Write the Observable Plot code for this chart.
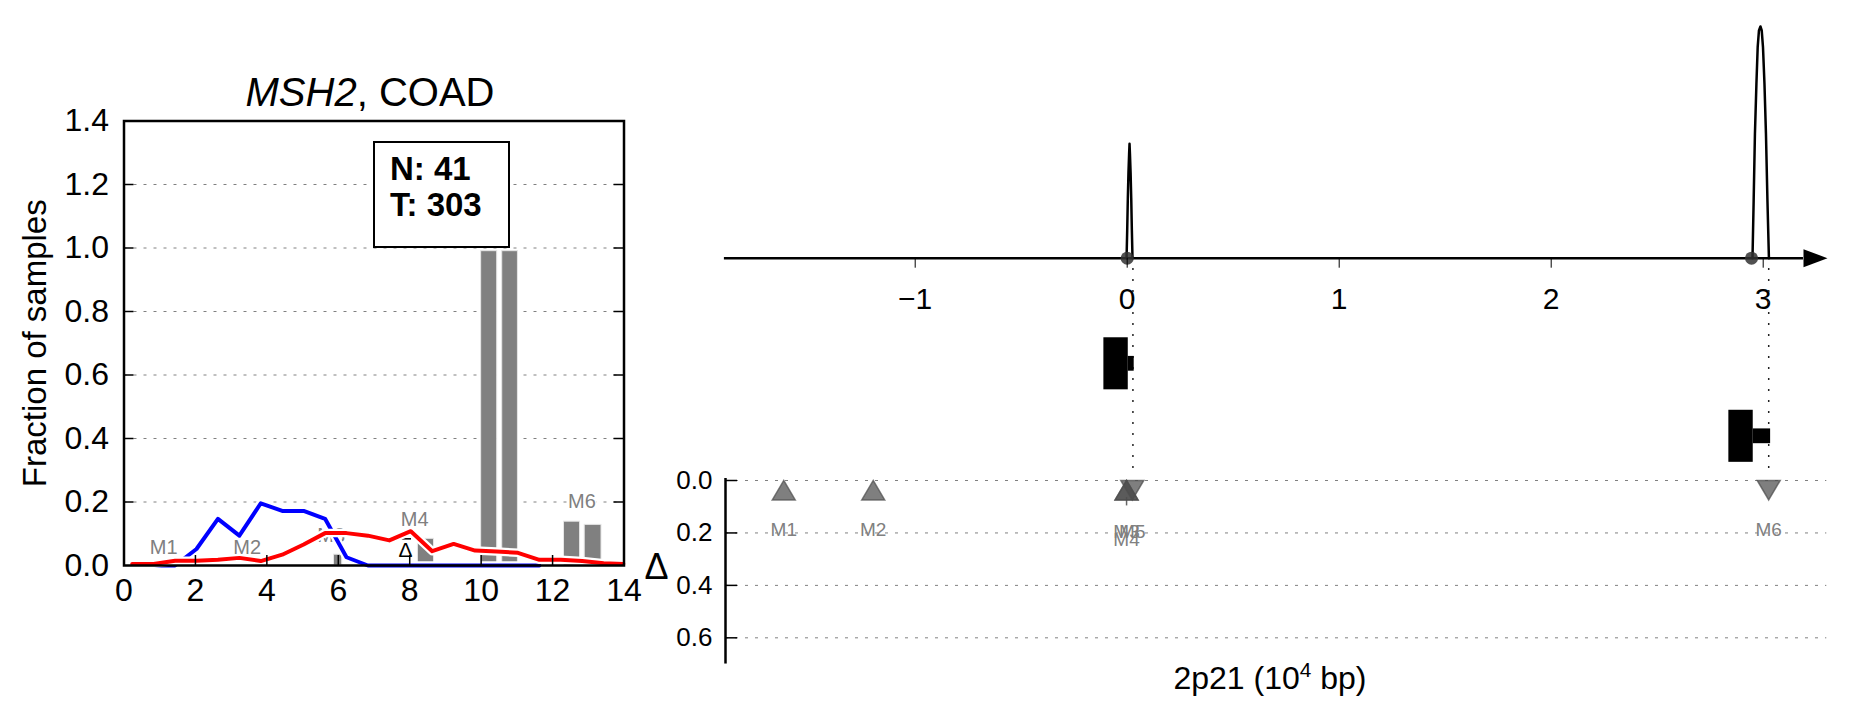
<!DOCTYPE html>
<html>
<head>
<meta charset="utf-8">
<script src="https://cdn.jsdelivr.net/npm/d3@7"></script>
<script src="https://cdn.jsdelivr.net/npm/@observablehq/plot@0.6"></script>
<style>
  body { margin: 0; background: #fff; }
  #root { position: relative; width: 1851px; height: 718px; overflow: hidden;
          font-family: 'Liberation Sans', Arial, Helvetica, sans-serif; color: #000; }
  .abs { position: absolute; }
  .abs svg { max-width: none !important; }
</style>
</head>
<body>
<div id="root"></div>
<script>
// ---------------- DATA ----------------
// Left panel: fraction of samples by copy-number bin
const cnX        = [0.23, 0.83, 1.43, 2.03, 2.63, 3.23, 3.83, 4.43, 5.03, 5.63, 6.23, 6.83, 7.43, 8.03, 8.63, 9.23, 9.83, 10.43, 11.03, 11.63, 12.23, 12.83, 13.43, 13.98];
const tumorFrac  = [0.005, 0.005, 0.015, 0.015, 0.018, 0.024, 0.014, 0.034, 0.066, 0.102, 0.102, 0.094, 0.079, 0.108, 0.045, 0.068, 0.047, 0.044, 0.040, 0.018, 0.018, 0.014, 0.007, 0.005];
const normalFrac = [0, 0, 0, 0.052, 0.147, 0.094, 0.196, 0.172, 0.172, 0.147, 0.026, 0, 0, 0, 0, 0, 0, 0, 0, 0];

const barX1  = [5.88, 8.23, 10.00, 10.59, 12.32, 12.90];
const barX2  = [6.11, 8.68, 10.45, 11.03, 12.77, 13.37];
const barTop = [0.034, 0.084, 0.99, 0.99, 0.138, 0.128];

const leftLabelText = ["M1", "M2", "M3", "M4", "M6"];
const leftLabelX    = [1.11, 3.45, 5.80, 8.14, 12.82];
const leftLabelY    = [0.057, 0.057, 0.094, 0.144, 0.200];

const deltaMarkX = [7.88];
const deltaMarkY = [0.047];
const deltaBarX1 = [7.79];
const deltaBarX2 = [8.05];
const deltaBarY  = [0.084];

const leftXTicks = [0, 2, 4, 6, 8, 10, 12, 14];
const leftYTicks = [0, 0.2, 0.4, 0.6, 0.8, 1.0, 1.2, 1.4];

const countN = 41;
const countT = 303;

// Right panel: genomic position (10^4 bp)
const posTicks = [-1, 0, 1, 2, 3];
const peak1X = [-0.003, 0.000, 0.003, 0.006, 0.009, 0.011, 0.013, 0.016, 0.019, 0.022, 0.025];
const peak1Y = [0, 0.12, 0.26, 0.37, 0.45, 0.494, 0.45, 0.37, 0.26, 0.12, 0];
const peak2X = [2.9495, 2.955, 2.961, 2.968, 2.974, 2.980, 2.987, 2.993, 2.999, 3.006, 3.013, 3.020, 3.027];
const peak2Y = [0, 0.249, 0.537, 0.752, 0.911, 0.983, 1.0, 0.983, 0.911, 0.752, 0.537, 0.249, 0];
const junctionX = [0.0, 2.945];
const guideX = [0.027, 3.026];

const exonStart = [-0.110, 2.838];
const exonMid   = [0.005, 2.953];
const exonEnd   = [0.033, 3.035];
const exonTier  = [0, 1];

const mutNames  = ["M1", "M2", "M3", "M4", "M5", "M6"];
const mutPos    = [-1.62, -1.198, -0.003, -0.003, 0.024, 3.026];
const mutDir    = ["up", "up", "up", "up", "down", "down"];
const mutDelta  = [0.037, 0.037, 0.037, 0.037, 0.037, 0.037];
const mutLabelDelta = [0.19, 0.19, 0.195, 0.225, 0.195, 0.19];
const errX  = [-0.003];
const errLo = [0.065];
const errHi = [0.097];
const deltaTicks = [0, 0.2, 0.4, 0.6];

// ---------------- HELPERS ----------------
const FONT = "'Liberation Sans', Arial, Helvetica, sans-serif";
const root = document.getElementById("root");
function place(el, left, top) {
  const w = document.createElement("div");
  w.className = "abs";
  w.style.left = left + "px";
  w.style.top = top + "px";
  w.appendChild(el);
  root.appendChild(w);
}
function baseStyle(size) {
  return {fontFamily: FONT, fontSize: size + "px", background: "transparent", overflow: "visible", color: "black", maxWidth: "none"};
}
const minusFmt = d => (d < 0 ? "\u2212" + Math.abs(d) : String(d));

// ---------------- LEFT PANEL ----------------
const normalData = normalFrac.map((y, i) => ({x: cnX[i], y}));
const tumorData = tumorFrac.map((y, i) => ({x: cnX[i], y}));
const bars = barTop.map((t, i) => ({x1: barX1[i], x2: barX2[i], top: t}));
const leftLabels = leftLabelText.map((t, i) => ({t, x: leftLabelX[i], y: leftLabelY[i]}));
const deltaMark = deltaMarkX.map((x, i) => ({x, y: deltaMarkY[i]}));
const deltaBar = deltaBarX1.map((x1, i) => ({x1, x2: deltaBarX2[i], y: deltaBarY[i]}));

const A = {w: 660, h: 640, ml: 123.5, mt: 120.5, mr: 36.5, mb: 75};
const AfW = A.w - A.ml - A.mr;
const AfH = A.h - A.mt - A.mb;
const innerX = leftXTicks.slice(1, -1);
const innerY = leftYTicks.slice(1, -1);

const plotA = Plot.plot({
  width: A.w, height: A.h,
  marginLeft: A.ml, marginTop: A.mt, marginRight: A.mr, marginBottom: A.mb,
  style: baseStyle(32),
  x: {domain: [0, 14]},
  y: {domain: [0, 1.4]},
  marks: [
    Plot.ruleY(innerY, {stroke: "#808080", strokeWidth: 1, strokeDasharray: "3,7"}),
    Plot.rect(bars, {x1: "x1", x2: "x2", y1: 0, y2: "top", fill: "#808080", stroke: "#e6e6e6", strokeWidth: 1}),
    Plot.text(leftLabels, {x: "x", y: "y", text: "t", fill: "#808080", fontSize: 20, stroke: "white", strokeWidth: 3, paintOrder: "stroke"}),
    Plot.text(deltaMark, {x: "x", y: "y", text: () => "\u0394", fill: "black", fontSize: 21}),
    Plot.ruleY(deltaBar, {y: "y", x1: "x1", x2: "x2", stroke: "black", strokeWidth: 1.5}),
    Plot.line(normalData, {x: "x", y: "y", stroke: "white", strokeWidth: 8.5, strokeLinejoin: "round"}),
    Plot.line(normalData, {x: "x", y: "y", stroke: "#0000ff", strokeWidth: 4, strokeLinejoin: "round"}),
    Plot.line(tumorData, {x: "x", y: "y", stroke: "white", strokeWidth: 8.5, strokeLinejoin: "round"}),
    Plot.line(tumorData, {x: "x", y: "y", stroke: "#ff0000", strokeWidth: 4, strokeLinejoin: "round"}),
    Plot.ruleX(innerX, {stroke: "black", strokeWidth: 1.5, insetTop: AfH - 10}),
    Plot.ruleY(innerY, {stroke: "black", strokeWidth: 1.5, insetRight: AfW - 10}),
    Plot.ruleY(innerY, {stroke: "black", strokeWidth: 1.5, insetLeft: AfW - 10}),
    Plot.frame({stroke: "black", strokeWidth: 2.5}),
    Plot.axisX({ticks: leftXTicks, tickSize: 0, tickPadding: 13, tickFormat: d => String(d), label: null}),
    Plot.axisY({ticks: leftYTicks, tickSize: 0, tickPadding: 15, tickFormat: d3.format(".1f"), label: null}),
    Plot.text(["Fraction of samples"], {frameAnchor: "left", textAnchor: "middle", rotate: -90, dx: -88.5, fontSize: 33})
  ]
});
place(plotA, 0, 0);

// title
const title = document.createElement("div");
title.innerHTML = "<i>MSH2</i>, COAD";
Object.assign(title.style, {width: "400px", textAlign: "center", fontSize: "40px", lineHeight: "40px", whiteSpace: "nowrap"});
place(title, 170, 72);

// counts box
const box = document.createElement("div");
box.innerHTML = "N: " + countN + "<br>T: " + countT;
Object.assign(box.style, {width: "137px", height: "107px", boxSizing: "border-box", border: "2.5px solid #000",
  paddingLeft: "15px", paddingTop: "8px", fontWeight: "bold", fontSize: "33px", lineHeight: "36px", background: "white"});
place(box, 373, 141);

// ---------------- RIGHT TOP: density + position axis ----------------
const X0 = 1126.7, PX = 212;           // absolute pixel of position 0, px per 10^4 bp
const posDomain = [-1.9, 3.3];
const arrowBase = 3.19;
const rightMargins = left => ({ml: X0 + PX * posDomain[0] - left, mr: (left + 1151) - (X0 + PX * posDomain[1])});

const peaks = [
  ...peak1X.map((x, i) => ({x, y: peak1Y[i], p: 1})),
  ...peak2X.map((x, i) => ({x, y: peak2Y[i], p: 2}))
];
const arrowHead = {draw(ctx) { ctx.moveTo(0, -9); ctx.lineTo(24, 0); ctx.lineTo(0, 9); ctx.closePath(); }};

const mB = rightMargins(700);
const plotB = Plot.plot({
  width: 1151, height: 330,
  marginLeft: mB.ml, marginRight: mB.mr, marginTop: 26, marginBottom: 330 - 257.7,
  style: baseStyle(30),
  x: {domain: posDomain},
  y: {domain: [0, 1], axis: null},
  marks: [
    Plot.line(peaks, {x: "x", y: "y", z: "p", stroke: "black", strokeWidth: 2.5, strokeLinejoin: "round"}),
    Plot.ruleY([0], {x1: posDomain[0], x2: arrowBase, stroke: "black", strokeWidth: 2.5}),
    Plot.dot([arrowBase], {x: d => d, y: 0, symbol: arrowHead, fill: "black", stroke: "none", r: 9}),
    Plot.dot(junctionX, {x: d => d, y: 0, r: 6.5, fill: "#333333", fillOpacity: 0.85, stroke: "none"}),
    Plot.axisX({ticks: posTicks, tickSize: 10, tickPadding: 19, tickFormat: minusFmt, label: null, strokeWidth: 1})
  ]
});
place(plotB, 700, 0);

// ---------------- RIGHT MIDDLE: exon glyphs + guide lines ----------------
const exons = exonStart.map((s, i) => ({s, m: exonMid[i], e: exonEnd[i], t: exonTier[i]}));
const plotC = Plot.plot({
  width: 1151, height: 210,
  marginLeft: mB.ml, marginRight: mB.mr, marginTop: 0, marginBottom: 0,
  style: baseStyle(20),
  x: {domain: posDomain, axis: null},
  y: {domain: [0, 1], range: [101.3, 173.8], axis: null},
  marks: [
    Plot.ruleX(guideX, {stroke: "#222", strokeWidth: 1.5, strokeDasharray: "2,9", insetTop: 6}),
    Plot.rect(exons, {x1: "s", x2: "m", y1: d => d.t - 0.359, y2: d => d.t + 0.359, fill: "black"}),
    Plot.rect(exons, {x1: "m", x2: "e", y1: d => d.t - 0.102, y2: d => d.t + 0.102, fill: "black"})
  ]
});
place(plotC, 700, 262);

// ---------------- RIGHT BOTTOM: delta panel ----------------
const muts = mutNames.map((n, i) => ({n, x: mutPos[i], dir: mutDir[i], d: mutDelta[i], ly: mutLabelDelta[i]}));
const errs = errX.map((x, i) => ({x, lo: errLo[i], hi: errHi[i]}));
const triUp = {draw(ctx) { ctx.moveTo(0, -9.75); ctx.lineTo(11.5, 9.75); ctx.lineTo(-11.5, 9.75); ctx.closePath(); }};
const triDown = {draw(ctx) { ctx.moveTo(0, 9.75); ctx.lineTo(11.5, -9.75); ctx.lineTo(-11.5, -9.75); ctx.closePath(); }};

const dLeft = 620;
const dDomain = [(725 - X0) / PX, posDomain[1]];
const dMl = 725 - dLeft;
const dMr = (dLeft + 1231) - (X0 + PX * dDomain[1]);
const DfW = 1231 - dMl - dMr;
const plotD = Plot.plot({
  width: 1231, height: 278,
  marginLeft: dMl, marginRight: dMr, marginTop: 40, marginBottom: 278 - (40 + 0.7 * 262.2),
  style: baseStyle(26),
  x: {domain: dDomain, axis: null},
  y: {domain: [0, 0.7], reverse: true},
  marks: [
    Plot.ruleY(deltaTicks, {stroke: "#808080", strokeWidth: 1, strokeDasharray: "3,7"}),
    Plot.ruleY(deltaTicks, {stroke: "black", strokeWidth: 1.5, insetRight: DfW - 12}),
    Plot.ruleX([dDomain[0]], {stroke: "black", strokeWidth: 2.5, insetTop: -2}),
    Plot.ruleX(errs, {x: "x", y1: "lo", y2: "hi", stroke: "#666", strokeWidth: 1.5}),
    Plot.dot(muts.filter(d => d.dir === "up"), {x: "x", y: "d", symbol: triUp, r: 9, fill: "#4d4d4d", fillOpacity: 0.72, stroke: "#4d4d4d", strokeOpacity: 0.72, strokeWidth: 1.5}),
    Plot.dot(muts.filter(d => d.dir === "down"), {x: "x", y: "d", symbol: triDown, r: 9, fill: "#4d4d4d", fillOpacity: 0.72, stroke: "#4d4d4d", strokeOpacity: 0.72, strokeWidth: 1.5}),
    Plot.text(muts, {x: "x", y: "ly", text: "n", fill: "#808080", fontSize: 19}),
    Plot.axisY({ticks: deltaTicks, tickSize: 0, tickPadding: 13, tickFormat: d3.format(".1f"), label: null}),
    Plot.text(["\u0394"], {frameAnchor: "left", textAnchor: "middle", dx: -69, dy: -5, fontSize: 36})
  ]
});
place(plotD, dLeft, 440);

// x label for the right panel
const xlab = document.createElement("div");
xlab.innerHTML = "2p21 (10<sup style=\"font-size:0.65em;line-height:0;vertical-align:0.6em\">4</sup> bp)";
Object.assign(xlab.style, {width: "400px", textAlign: "center", fontSize: "32px", lineHeight: "32px", whiteSpace: "nowrap"});
place(xlab, 1070, 662);
</script>
</body>
</html>
